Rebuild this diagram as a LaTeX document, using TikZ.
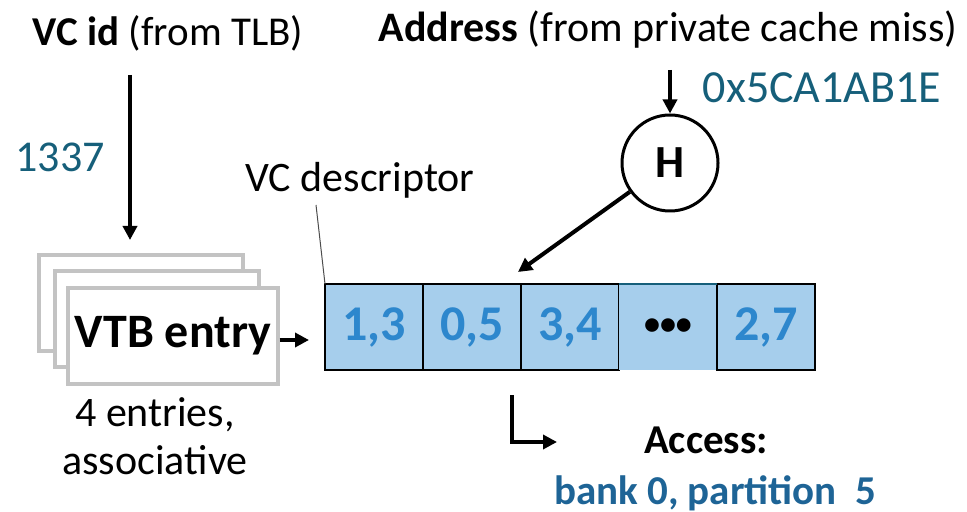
\documentclass[tikz,border=0pt]{standalone}
\usepackage{fontspec}
\setmainfont{Carlito}
\usetikzlibrary{positioning,arrows.meta}
\definecolor{vcTeal}{RGB}{22,95,122}
\definecolor{vcBank}{RGB}{30,100,150}
\definecolor{vcNum}{RGB}{45,135,205}
\definecolor{vcCell}{RGB}{166,206,236}
\definecolor{vcGray}{RGB}{195,195,195}
\tikzset{
    base/.style={font=\fontsize{20.5}{24}\selectfont, inner sep=1pt},
    big/.style={font=\fontsize{23}{27}\selectfont\bfseries, inner sep=1pt},
    cell/.style={big, font=\fontsize{25}{29}\selectfont\bfseries, text=vcNum, fill=vcCell,
                 draw=black, line width=1pt,
                 minimum width=49pt, minimum height=43pt, outer sep=0pt},
    stack/.style={rectangle, draw=vcGray, line width=2pt, fill=white,
                  minimum width=102pt, minimum height=48pt},
    hash/.style={big, circle, draw=black, line width=1.5pt, minimum size=48pt},
    flow/.style={-{Triangle[length=7pt,width=7pt]}, line width=2pt},
    leader/.style={draw=black!70, line width=0.5pt}
}
\begin{document}
\begin{tikzpicture}[x=0.5pt,y=-0.5pt]
  \useasboundingbox (0,0) rectangle (967,512);

  % Inputs
  \node[base] (vcid) at (168,33) {\textbf{VC id} (from TLB)};
  \node[base, font=\fontsize{21}{25}\selectfont] (addr) at (668,30)
    {\textbf{Address} (from private cache miss)};
  \node[base, text=vcTeal, font=\fontsize{22}{26}\selectfont] (vcnum) at (60,157) {1337};
  \node[base, text=vcTeal, font=\fontsize{23}{27}\selectfont] (addrnum) at (822,88) {0x5CA1AB1E};

  % VTB entries
  \node[stack] (v1) at (141,303) {};
  \node[stack] (v2) at (157,319) {};
  \node[stack, font=\fontsize{24}{28}\selectfont\bfseries] (v3) at (173,336) {VTB entry};
  \node[base, align=center, font=\fontsize{21}{25}\selectfont] (assoc) at (155,436)
    {4 entries,\\[-1pt]associative};

  % VC descriptor
  \node[cell] (c1) at (374,327) {1,3};
  \node[cell, right=0pt of c1] (c2) {0,5};
  \node[cell, right=0pt of c2] (c3) {3,4};
  \node[cell, right=0pt of c3, draw=none, text=black, font=\fontsize{16}{16}\selectfont\bfseries,
        text depth=-8pt] (c4) {\textbullet\textbullet\textbullet};
  \node[cell, right=0pt of c4] (c5) {2,7};
  \draw[vcTeal, line width=1pt] (c4.north west) -- (c4.north east);
  \node[base, font=\fontsize{21}{25}\selectfont] (desc) at (360,180) {VC descriptor};
  \draw[leader] (316,205) -- (c1.north west);

  % Hash
  \node[hash] (h) at (670,163) {H};
  \coordinate (hit) at (518,272);
  \coordinate (vtop) at (130,240);
  \coordinate (din) at ([xshift=-8pt]c1.west |- 0,340);

  % Arrows
  \draw[flow] (130,75) -- (vtop);
  \draw[flow] (670,70) -- (h);
  \draw[flow] (h) -- (hit);
  \draw[flow] (v3.east |- din) -- (din);

  % Result
  \coordinate (sel) at (512,395);
  \coordinate (acc) at (557,442);
  \draw[flow] (sel) |- (acc);
  \node[base, font=\fontsize{20.5}{24}\selectfont\bfseries] (access) at (706,440) {Access:};
  \node[base, text=vcBank, font=\fontsize{20.5}{24}\selectfont\bfseries] (bank) at (715,493)
    {bank 0, partition\ \ 5};
\end{tikzpicture}
\end{document}
